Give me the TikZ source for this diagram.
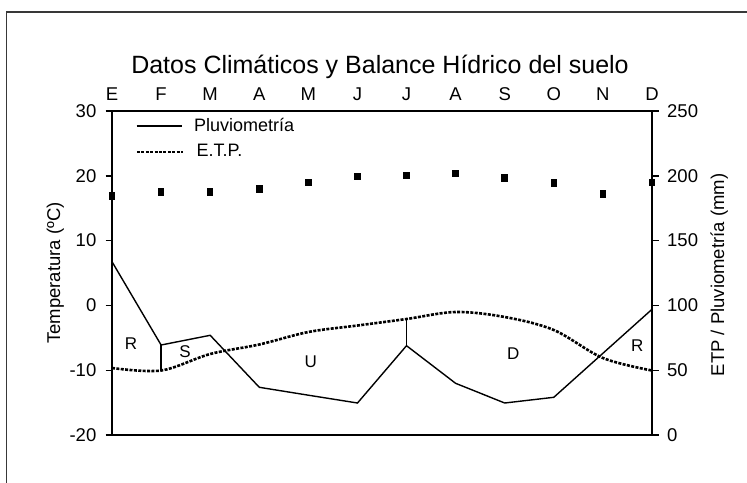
\documentclass[tikz,border=0pt]{standalone}
\usepackage{fontspec}
\setmainfont{Liberation Sans}
\begin{document}
\begin{tikzpicture}[x=1pt,y=-1pt,
  frame/.style={draw=black!78, line width=1.6pt},
  axisline/.style={line width=1.6pt},
  tickline/.style={line width=1.3pt},
  pluvio/.style={line width=1.4pt, line join=miter},
  etp/.style={line width=2.6pt, dash pattern=on 3pt off 1.4pt},
  tsq/.style={fill=black, minimum width=6.5pt, minimum height=7.5pt, inner sep=0pt},
  small/.style={font=\fontsize{18.5}{21}\selectfont, inner sep=0pt},
  legtext/.style={font=\fontsize{18}{21}\selectfont, inner sep=0pt, anchor=base west},
  axtitle/.style={font=\fontsize{18.5}{21}\selectfont, inner sep=0pt, rotate=90, anchor=base},
  region/.style={font=\fontsize{17}{20}\selectfont, inner sep=0pt},
  titletext/.style={font=\fontsize{25}{28}\selectfont, inner sep=0pt, anchor=base}
]
\clip (0,0) rectangle (747,482);
\fill[white] (0,0) rectangle (747,482);
\draw[frame] (6.5,12) rectangle (780,520);

% title
\node[titletext] (title) at (380,73) {Datos Climáticos y Balance Hídrico del suelo};

% plot frame
\coordinate (tl) at (112,111);
\coordinate (br) at (652,435);
\draw[axisline] (tl) rectangle (br);

% ticks and numbers
\foreach \yy/\lt/\rt [count=\k] in {111/30/250,176/20/200,240.6/10/150,305.5/0/100,370.4/-10/50,435/-20/0}{
  \draw[tickline] (105.5,\yy) -- (112,\yy);
  \draw[tickline] (652,\yy) -- (658.5,\yy);
  \node[small, anchor=east] (ln\k) at (96.5,\yy) {\lt};
  \node[small, anchor=west] (rn\k) at (667,\yy) {\rt};
}

% month labels
\foreach \m [count=\i from 0] in {E,F,M,A,M,J,J,A,S,O,N,D}{
  \node[small, anchor=base] (m\i) at ({112+49.09*\i},100) {\m};
}

% axis titles
\node[axtitle] (ylab) at (60,273) {Temperatura (ºC)};
\node[axtitle] (y2lab) at (724,275) {ETP / Pluviometría (mm)};

% legend
\coordinate (lg1a) at (136.7,126);
\coordinate (lg1b) at (181.7,126);
\draw[pluvio] (lg1a) -- (lg1b);
\node[legtext] (lgt1) at (194,131.5) {Pluviometría};
\coordinate (lg2a) at (137,152);
\coordinate (lg2b) at (183,152);
\draw[etp] (lg2a) -- (lg2b);
\node[legtext] (lgt2) at (196.5,156) {E.T.P.};

% temperature squares
\foreach \yy [count=\i from 0] in {196,192.1,192.1,188.9,182.4,176.5,175.3,173.3,177.8,183,194,182.4}{
  \node[tsq] (t\i) at ({112+49.09*\i},\yy) {};
}

% pluviometry
\coordinate (p0) at (112,261.7);
\coordinate (p1) at (161.1,345);
\coordinate (p2) at (210.2,335.3);
\coordinate (p3) at (259.3,387.3);
\coordinate (p4) at (308.4,395.2);
\coordinate (p5) at (357.5,403);
\coordinate (p6) at (406.5,345.7);
\coordinate (p7) at (455.6,383.3);
\coordinate (p8) at (504.7,403);
\coordinate (p9) at (553.8,397.3);
\coordinate (p10) at (602.9,353.3);
\coordinate (p11) at (652,309.3);
\draw[pluvio] (p0) -- (p1) -- (p2) -- (p3) -- (p4) -- (p5) -- (p6) -- (p7) -- (p8) -- (p9) -- (p10) -- (p11);

% ETP
\coordinate (e0) at (112,368);
\coordinate (e1) at (161.1,370.5);
\coordinate (e2) at (210.2,354);
\coordinate (e3) at (259.3,344.5);
\coordinate (e4) at (308.4,332);
\coordinate (e5) at (357.5,325.5);
\coordinate (e6) at (406.5,319);
\coordinate (e7) at (455.6,312);
\coordinate (e8) at (504.7,317);
\coordinate (e9) at (553.8,330);
\coordinate (e10) at (602.9,358);
\coordinate (e11) at (652,370.5);
\draw[etp] plot[smooth, tension=0.55] coordinates {(e0) (e1) (e2) (e3) (e4) (e5) (e6) (e7) (e8) (e9) (e10) (e11)};

% verticals
\draw[pluvio] (p1) -- (e1);
\draw[pluvio] (p6) -- (e6);

% region labels
\node[region] (rR1) at (131,344) {R};
\node[region] (rS) at (185,351.5) {S};
\node[region] (rU) at (310.7,361.7) {U};
\node[region] (rD) at (513.3,353.3) {D};
\node[region] (rR2) at (637.3,345.7) {R};
\end{tikzpicture}
\end{document}
